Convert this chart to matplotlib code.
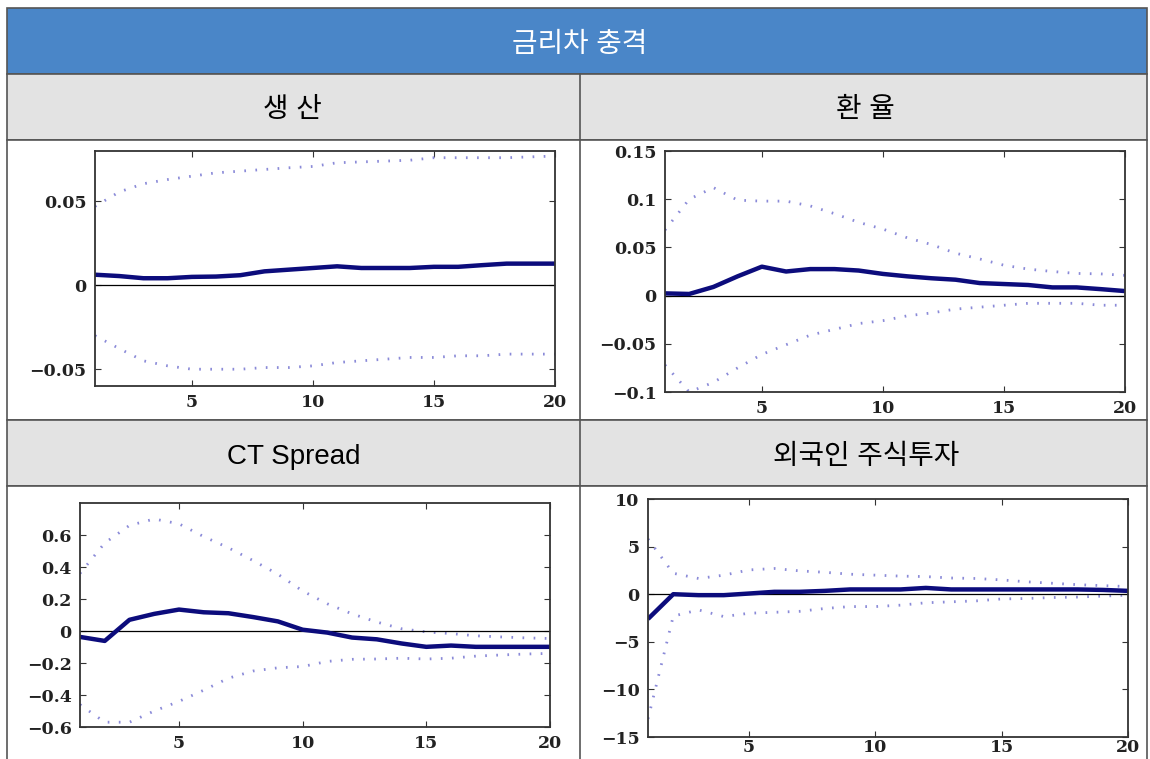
import numpy as np
import matplotlib.pyplot as plt
from matplotlib.patches import Rectangle

plt.rcParams['font.family'] = ['Liberation Sans', 'Noto Sans CJK KR']

horizon = np.arange(1, 21)

header = "금리차 충격"
panel_titles = ["생 산", "환 율", "CT Spread", "외국인 주식투자"]

# impulse responses with upper / lower bands
output_mid = [0.0063, 0.0055, 0.0042, 0.0042, 0.005, 0.0052, 0.006, 0.0083, 0.0093, 0.0103,
              0.0113, 0.0103, 0.0103, 0.0103, 0.011, 0.011, 0.012, 0.0129, 0.0129, 0.0129]
output_hi = [0.047, 0.0556, 0.0605, 0.063, 0.065, 0.067, 0.068, 0.069, 0.070, 0.0708,
             0.073, 0.0735, 0.074, 0.0745, 0.076, 0.076, 0.076, 0.076, 0.0765, 0.077]
output_lo = [-0.030, -0.0377, -0.045, -0.048, -0.050, -0.050, -0.050, -0.049, -0.049, -0.048,
             -0.046, -0.045, -0.044, -0.043, -0.043, -0.042, -0.042, -0.041, -0.041, -0.041]

fx_mid = [0.0023, 0.0017, 0.009, 0.020, 0.030, 0.025, 0.0275, 0.0275, 0.026, 0.0225,
          0.020, 0.018, 0.0165, 0.013, 0.012, 0.011, 0.0085, 0.0085, 0.0067, 0.0047]
fx_hi = [0.068, 0.100, 0.112, 0.099, 0.098, 0.098, 0.093, 0.085, 0.076, 0.069,
         0.060, 0.053, 0.044, 0.038, 0.0315, 0.0275, 0.025, 0.023, 0.0225, 0.021]
fx_lo = [-0.072, -0.100, -0.090, -0.075, -0.061, -0.051, -0.041, -0.035, -0.029, -0.026,
         -0.021, -0.018, -0.014, -0.012, -0.010, -0.008, -0.008, -0.008, -0.010, -0.010]

spread_mid = [-0.037, -0.062, 0.070, 0.107, 0.134, 0.117, 0.111, 0.087, 0.060, 0.008,
              -0.010, -0.041, -0.052, -0.078, -0.099, -0.091, -0.099, -0.099, -0.099, -0.099]
spread_hi = [0.36, 0.55, 0.66, 0.70, 0.67, 0.59, 0.52, 0.44, 0.355, 0.25,
             0.17, 0.107, 0.056, 0.014, -0.006, -0.016, -0.030, -0.037, -0.043, -0.047]
spread_lo = [-0.46, -0.57, -0.57, -0.50, -0.44, -0.37, -0.295, -0.25, -0.23, -0.222,
             -0.19, -0.177, -0.175, -0.17, -0.175, -0.17, -0.157, -0.15, -0.144, -0.14]

equity_mid = [-2.6, 0.0, -0.1, -0.1, 0.07, 0.25, 0.25, 0.35, 0.5, 0.5,
              0.5, 0.66, 0.5, 0.5, 0.5, 0.5, 0.5, 0.5, 0.45, 0.35]
equity_hi = [5.8, 2.2, 1.65, 2.0, 2.55, 2.7, 2.45, 2.3, 2.1, 2.0,
             1.9, 1.85, 1.7, 1.65, 1.5, 1.3, 1.15, 1.0, 0.9, 0.8]
equity_lo = [-13.1, -2.3, -1.65, -2.35, -2.0, -1.9, -1.8, -1.5, -1.3, -1.3,
             -1.15, -0.9, -0.8, -0.7, -0.5, -0.45, -0.35, -0.3, -0.2, -0.1]

W, H = 1150, 759
fig = plt.figure(figsize=(W / 100, H / 100), dpi=100)

# table frame drawn in pixel coordinates
bg = fig.add_axes([0, 0, 1, 1])
bg.set_xlim(0, W)
bg.set_ylim(H, 0)
bg.axis('off')
edge = '#555555'
bg.add_patch(Rectangle((7, 8), 1140, 66, facecolor='#4a86c8', edgecolor=edge, lw=1.2))
bg.add_patch(Rectangle((7, 74), 1140, 66, facecolor='#e3e3e3', edgecolor=edge, lw=1.2))
bg.add_patch(Rectangle((7, 140), 1140, 280, facecolor='white', edgecolor=edge, lw=1.2))
bg.add_patch(Rectangle((7, 420), 1140, 66, facecolor='#e3e3e3', edgecolor=edge, lw=1.2))
bg.add_patch(Rectangle((7, 486), 1140, 280, facecolor='white', edgecolor=edge, lw=1.2))
bg.plot([580, 580], [74, 766], color=edge, lw=1.2)
bg.text(580, 45, header, color='white', fontsize=20, ha='center', va='center')
for (cx, cy), t in zip([(292, 110), (865, 110), (294, 457), (866, 457)], panel_titles):
    bg.text(cx, cy, t, color='black', fontsize=20, ha='center', va='center')

panels = [
    ((95, 555, 151, 386), output_mid, output_hi, output_lo, (-0.06, 0.08), [-0.05, 0, 0.05], 6),
    ((665, 1125, 151, 392), fx_mid, fx_hi, fx_lo, (-0.1, 0.15), [-0.1, -0.05, 0, 0.05, 0.1, 0.15], 6),
    ((80, 550, 503, 727), spread_mid, spread_hi, spread_lo, (-0.6, 0.8), [-0.6, -0.4, -0.2, 0, 0.2, 0.4, 0.6], 6),
    ((648, 1128, 499, 737), equity_mid, equity_hi, equity_lo, (-15, 10), [-15, -10, -5, 0, 5, 10], 1.5),
]


def fmt(v):
    s = ('%g' % v)
    return s.replace('-', '\u2212')


for (l, r, t, b), mid, hi, lo, ylim, yt, xpad in panels:
    ax = fig.add_axes([l / W, 1 - b / H, (r - l) / W, (b - t) / H])
    ax.plot(horizon, hi, color='#8a8ad8', lw=2, linestyle=(0, (0.6, 3.4)))
    ax.plot(horizon, lo, color='#8a8ad8', lw=2, linestyle=(0, (0.6, 3.4)))
    ax.axhline(0, color='black', lw=0.9)
    ax.plot(horizon, mid, color='#0c0c7c', lw=3.2, solid_capstyle='butt')
    ax.set_xlim(1, 20)
    ax.set_ylim(*ylim)
    ax.set_xticks([5, 10, 15, 20])
    ax.set_yticks(yt)
    ax.set_yticklabels([fmt(v) for v in yt])
    ax.tick_params(direction='in', top=True, right=True, length=4, color='#333333',
                   labelsize=12.5, labelcolor='#222222', pad=6)
    ax.tick_params(axis='x', pad=xpad)
    for lab in ax.get_xticklabels() + ax.get_yticklabels():
        lab.set_fontfamily('DejaVu Serif')
        lab.set_fontweight('bold')
    for s in ax.spines.values():
        s.set_color('#333333')
        s.set_linewidth(1.3)

fig.savefig('out.png', dpi=100)
